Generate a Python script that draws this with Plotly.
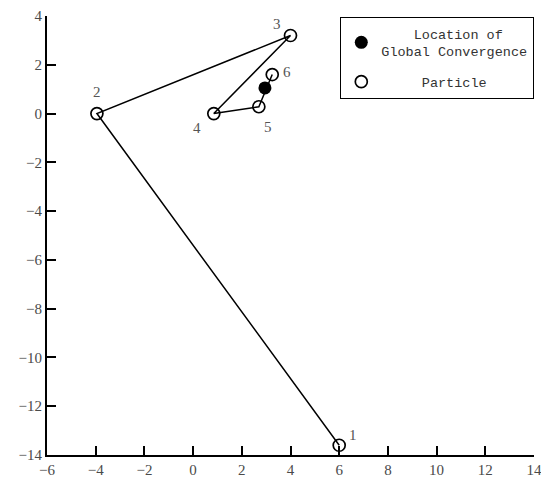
import plotly.graph_objects as go

# particle trajectory, visited in order 1..6
particle_x = [6.0, -3.95, 4.0, 0.85, 2.7, 3.25]
particle_y = [-13.6, 0.0, 3.2, 0.0, 0.28, 1.6]
particle_labels = ["1", "2", "3", "4", "5", "6"]

# location the swarm converges to
global_x = [2.95]
global_y = [1.05]

x_ticks = [-6, -4, -2, 0, 2, 4, 6, 8, 10, 12, 14]
y_ticks = [4, 2, 0, -2, -4, -6, -8, -10, -12, -14]

# pixel offsets of each step label from its particle
label_shift = [(14, 10), (0, 22), (-14, 12), (-17, -14), (9, -20), (15, 3)]

serif = "Liberation Serif"
mono = "Liberation Mono"

fig = go.Figure()

fig.add_trace(go.Scatter(
    x=particle_x, y=particle_y, mode="lines",
    line=dict(color="black", width=1.5),
    showlegend=False, hoverinfo="skip",
))

nb = "\u00a0"
fig.add_trace(go.Scatter(
    x=global_x, y=global_y, mode="markers",
    marker=dict(symbol="circle", size=13, color="black"),
    name=nb * 4 + "Location of<br>Global Convergence",
    legendgroup="global",
))

fig.add_trace(go.Scatter(
    x=particle_x, y=particle_y, mode="markers",
    marker=dict(symbol="circle-open", size=12, color="black",
                line=dict(width=1.7, color="black")),
    name=nb * 5 + "Particle",
    legendgroup="particle",
))

for x, y, t, (dx, dy) in zip(particle_x, particle_y, particle_labels, label_shift):
    fig.add_annotation(
        x=x, y=y, text=t, showarrow=False,
        xshift=dx, yshift=dy,
        font=dict(family=serif, size=15, color="#555555"),
    )

axis_common = dict(
    showgrid=False, zeroline=False,
    showline=True, linecolor="black", linewidth=2,
    ticks="inside", ticklen=9, tickwidth=2, tickcolor="black",
    tickfont=dict(family=serif, size=15, color="#4a4a4a"),
    ticklabeloverflow="allow",
    automargin=False,
    mirror=False,
)

fig.update_xaxes(range=[-6, 14], tickvals=x_ticks, **axis_common)
fig.update_yaxes(range=[-14, 4], tickvals=y_ticks, **axis_common)

fig.update_layout(
    width=541, height=478,
    margin=dict(l=47, r=7, t=16, b=23, autoexpand=False),
    plot_bgcolor="white", paper_bgcolor="white",
    legend=dict(
        # box's right edge on the plot's right edge, top just below the top
        x=1.0, y=(455 - 17) / (455 - 16),
        xref="paper", yref="paper",
        xanchor="right", yanchor="top",
        bordercolor="black", borderwidth=1.3, bgcolor="white",
        font=dict(family=mono, size=13.5, color="#333333"),
        traceorder="grouped",
        tracegroupgap=10,
    ),
)

fig.write_html("out.html")
